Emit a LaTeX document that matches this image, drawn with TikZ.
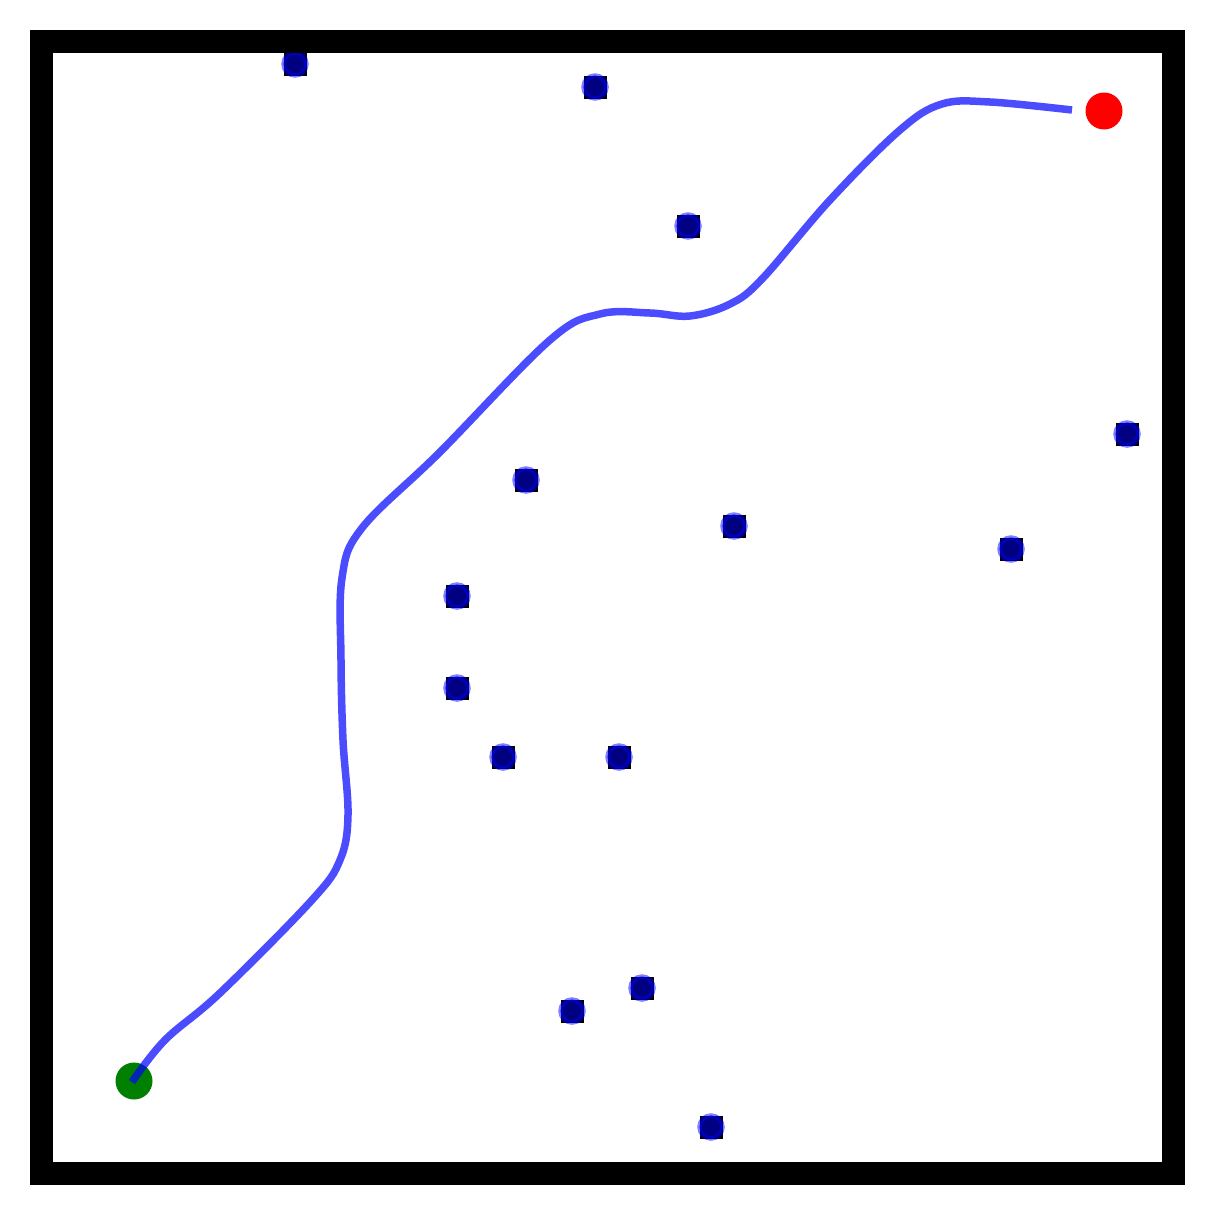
\documentclass[tikz,border=0pt]{standalone}
\begin{document}
\begin{tikzpicture}[x=1pt,y=-1pt,
  obsq/.style={draw=none,fill=black,minimum size=23pt,inner sep=0pt,rectangle},
  obcirc/.style={circle,fill=navyc,draw=blue,draw opacity=0.5,line width=4.5pt,minimum size=23pt,inner sep=0pt},
  endpt/.style={circle,draw=none,minimum size=37pt,inner sep=0pt},
  traj/.style={draw=blue,draw opacity=0.7,line width=7.5pt}]
\definecolor{navyc}{RGB}{0,0,128}
\definecolor{greenc}{RGB}{0,128,0}
\useasboundingbox (0,0) rectangle (1215,1215);
\fill[white] (0,0) rectangle (1215,1215);
% obstacles
\foreach \n/\px/\py in {1/295/64, 2/595/87, 3/688/226, 4/1127/434, 5/526/480, 6/734/526, 7/1011/549, 8/457/596, 9/457/688, 10/503/757, 11/619/757, 12/642/988, 13/572/1011, 14/711/1127}{
  \node[obsq] (sq\n) at (\px,\py) {};
  \node[obcirc] (ob\n) at (\px,\py) {};
}
% start and goal
\node[endpt,fill=greenc] (start) at (134,1081) {};
\node[endpt,fill=red] (goal) at (1104,111) {};
% trajectory
\draw[traj] plot[smooth,tension=0.6] coordinates {(132,1082) (165,1040) (220,993) (312,900) (340,860) (348,815) (343,740) (341,660) (342,578) (362,528) (440,452) (550,340) (600,314) (650,313) (690,316) (730,304) (762,279) (830,200) (900,130) (942,104) (990,102) (1072,110)};
% frame
\draw[line width=23pt] (41.5,41.5) rectangle (1173.5,1173.5);
\end{tikzpicture}
\end{document}
